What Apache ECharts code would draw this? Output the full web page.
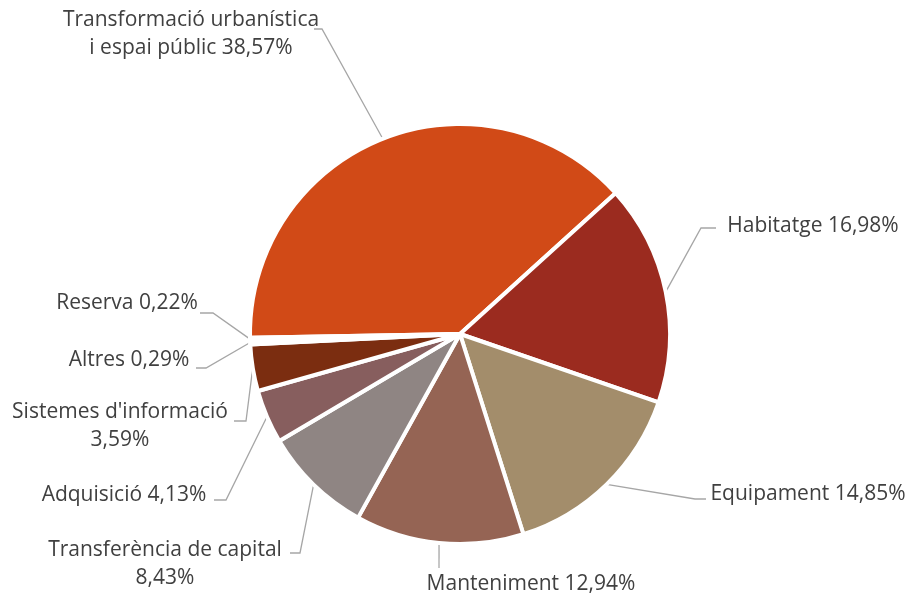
<!DOCTYPE html>
<html>
<head>
<meta charset="utf-8">
<script src="https://cdn.jsdelivr.net/npm/echarts@6/dist/echarts.min.js"></script>
<style>
  html, body { margin: 0; padding: 0; background: #ffffff; }
  #chart { width: 911px; height: 599px; }
</style>
</head>
<body>
<div id="chart"></div>
<script>
// Investment breakdown by programme (percent of total)
const categories = [
  'Transformació urbanística i espai públic',
  'Habitatge',
  'Equipament',
  'Manteniment',
  'Transferència de capital',
  'Adquisició',
  "Sistemes d'informació",
  'Altres',
  'Reserva'
];
const shares = [38.57, 16.98, 14.85, 12.94, 8.43, 4.13, 3.59, 0.29, 0.22];
const colors = ['#D14A17', '#9B2B1F', '#A38D6B', '#956454', '#8F8583', '#875E5E', '#7B2D10', '#8C3A1E', '#B8A58A'];

// Where each label's text block sits and where its leader line bends
const labelSpots = [
  { x: 191, y: 34,  bend: [322, 29],  end: [314, 29] },
  { x: 813, y: 226, bend: [701, 228], end: [716, 228] },
  { x: 808, y: 494, bend: [695, 499], end: [706, 499] },
  { x: 531, y: 584, bend: null,       end: [439, 568] },
  { x: 165, y: 564, bend: [300, 553], end: [290, 553] },
  { x: 124, y: 495, bend: [226, 500], end: [214, 500] },
  { x: 120, y: 426, bend: [246, 421], end: [234, 421] },
  { x: 129, y: 360, bend: [206, 368], end: [196, 368] },
  { x: 127, y: 303, bend: [213, 313], end: [200, 313] }
];

function pct(v) {
  return v.toFixed(2).replace('.', ',') + '%';
}

// Two-line labels for the longer names
function labelText(name, value) {
  if (name === 'Transformació urbanística i espai públic') {
    return 'Transformació urbanística\ni espai públic ' + pct(value);
  }
  if (name === 'Transferència de capital' || name === "Sistemes d'informació") {
    return name + '\n' + pct(value);
  }
  return name + ' ' + pct(value);
}

const chart = echarts.init(document.getElementById('chart'), null, { renderer: 'canvas' });

chart.setOption({
  backgroundColor: '#ffffff',
  animation: false,
  series: [{
    type: 'pie',
    center: [460, 334],
    radius: 210,
    startAngle: 181,
    clockwise: true,
    avoidLabelOverlap: false,
    data: categories.map((c, i) => ({
      name: c,
      value: shares[i],
      itemStyle: { color: colors[i] }
    })),
    itemStyle: { borderColor: '#ffffff', borderWidth: 4 },
    label: {
      show: true,
      position: 'outside',
      color: '#404040',
      fontFamily: 'Open Sans',
      fontSize: 21,
      lineHeight: 28,
      align: 'center',
      formatter: p => labelText(p.name, p.value)
    },
    labelLine: {
      show: true,
      length: 20,
      length2: 10,
      lineStyle: { color: '#A6A6A6', width: 1.3 }
    },
    labelLayout: function (params) {
      const s = labelSpots[params.dataIndex];
      const start = params.labelLinePoints ? params.labelLinePoints[0] : null;
      const pts = [];
      if (start) pts.push(start);
      if (s.bend) pts.push(s.bend);
      pts.push(s.end);
      return {
        x: s.x,
        y: s.y,
        align: 'center',
        verticalAlign: 'middle',
        labelLinePoints: pts
      };
    },
    emphasis: { disabled: true }
  }]
});
</script>
</body>
</html>
